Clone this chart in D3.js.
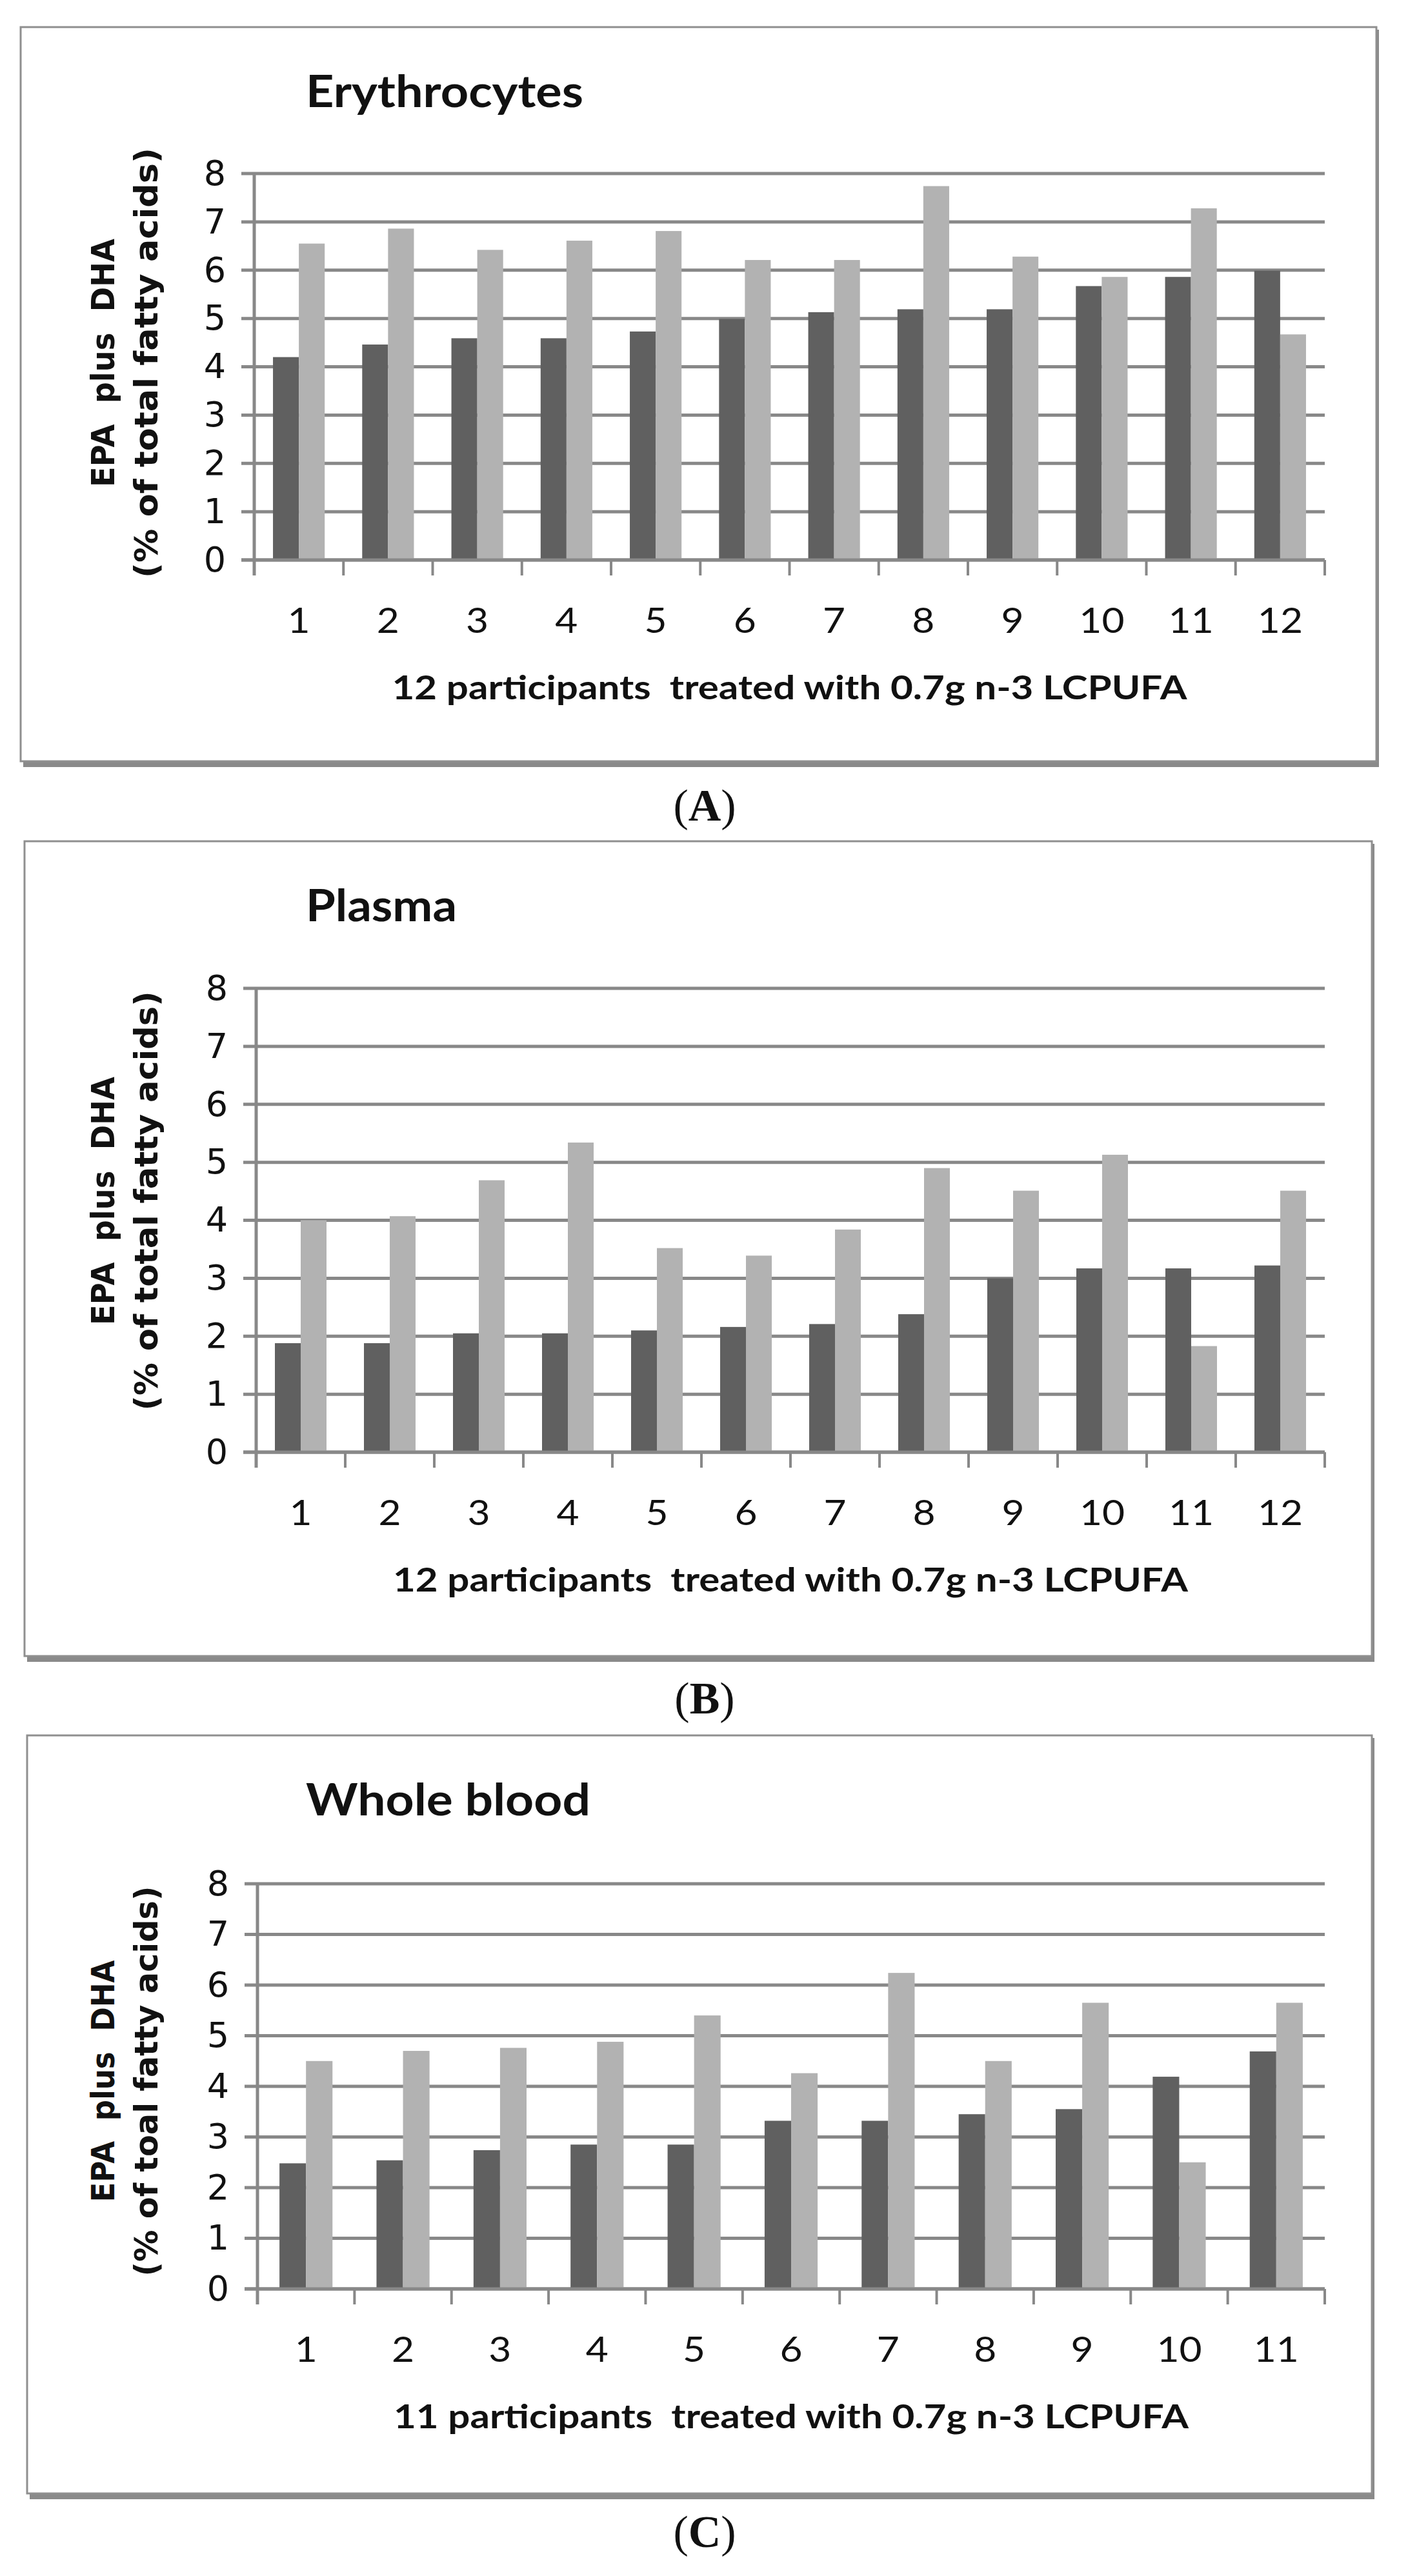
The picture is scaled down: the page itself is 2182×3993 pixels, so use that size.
<!DOCTYPE html>
<html>
<head>
<meta charset="utf-8">
<script src="https://cdn.jsdelivr.net/npm/d3@7"></script>
<style>
  body { margin: 0; background: #fff; }
  text { white-space: pre; }
</style>
</head>
<body>
<div id="chart"></div>
<script>
// ---- data ----
const yTicks = [0, 1, 2, 3, 4, 5, 6, 7, 8];

const erythroParticipants = ["1", "2", "3", "4", "5", "6", "7", "8", "9", "10", "11", "12"];
const erythroBefore = [4.20, 4.46, 4.59, 4.59, 4.73, 4.99, 5.13, 5.19, 5.19, 5.67, 5.86, 5.99];
const erythroAfter  = [6.55, 6.86, 6.42, 6.61, 6.81, 6.21, 6.21, 7.74, 6.28, 5.86, 7.28, 4.67];

const plasmaParticipants = ["1", "2", "3", "4", "5", "6", "7", "8", "9", "10", "11", "12"];
const plasmaBefore = [1.88, 1.88, 2.05, 2.05, 2.10, 2.16, 2.21, 2.38, 3.00, 3.17, 3.17, 3.22];
const plasmaAfter  = [4.00, 4.07, 4.69, 5.34, 3.52, 3.39, 3.84, 4.90, 4.51, 5.13, 1.83, 4.51];

const bloodParticipants = ["1", "2", "3", "4", "5", "6", "7", "8", "9", "10", "11"];
const bloodBefore = [2.48, 2.54, 2.74, 2.85, 2.85, 3.32, 3.32, 3.45, 3.55, 4.19, 4.69];
const bloodAfter  = [4.50, 4.70, 4.76, 4.88, 5.40, 4.26, 6.24, 4.50, 5.65, 2.50, 5.65];

const series = ["before", "after"];
const colors = { before: "#606060", after: "#b2b2b2" };

// ---- layout of the three panels ----
const W = 2182, H = 3993;

const panels = [
  { title: "Erythrocytes", letter: "A", labels: erythroParticipants, before: erythroBefore, after: erythroAfter,
    xTitle: "12 participants  treated with 0.7g n-3 LCPUFA", yLine2: "(% of total fatty acids)",
    frame: { x: 32, y: 42, w: 2101, h: 1138 }, plot: { left: 394, right: 2053, top: 269, bottom: 868 },
    gap: 0.725, titleLen: 430, yLen1: 385, yLen2: 667, yShift: -6, letterY: 1248 },
  { title: "Plasma", letter: "B", labels: plasmaParticipants, before: plasmaBefore, after: plasmaAfter,
    xTitle: "12 participants  treated with 0.7g n-3 LCPUFA", yLine2: "(% of total fatty acids)",
    frame: { x: 38, y: 1304, w: 2088, h: 1263 }, plot: { left: 397, right: 2053, top: 1532, bottom: 2251 },
    gap: 0.725, titleLen: 234, yLen1: 385, yLen2: 650, yShift: -30, letterY: 2632 },
  { title: "Whole blood", letter: "C", labels: bloodParticipants, before: bloodBefore, after: bloodAfter,
    xTitle: "11 participants  treated with 0.7g n-3 LCPUFA", yLine2: "(% of toal fatty acids)",
    frame: { x: 42, y: 2690, w: 2084, h: 1175 }, plot: { left: 399, right: 2053, top: 2920, bottom: 3548 },
    gap: 0.83, titleLen: 441, yLen1: 375, yLen2: 605, yShift: -8, letterY: 3924 }
];

const svg = d3.select("#chart")
  .append("svg")
  .attr("width", W)
  .attr("height", H)
  .style("display", "block");

svg.append("rect").attr("width", W).attr("height", H).attr("fill", "#fff");

const gridColor = "#888";

panels.forEach(drawPanel);

function drawPanel(p) {
  const g = svg.append("g");
  const f = p.frame;

  // panel frame with a little drop shadow at the bottom/right
  g.append("rect")
    .attr("x", f.x + 4).attr("y", f.y + 4)
    .attr("width", f.w).attr("height", f.h + 5)
    .attr("fill", "#8a8a8a");
  g.append("rect")
    .attr("x", f.x).attr("y", f.y)
    .attr("width", f.w).attr("height", f.h)
    .attr("fill", "#fff")
    .attr("stroke", "#8f8f8f")
    .attr("stroke-width", 3);

  const x0 = d3.scaleBand()
    .domain(p.labels)
    .range([p.plot.left, p.plot.right]);

  const x1 = d3.scaleBand()
    .domain(series)
    .range([0, x0.bandwidth()])
    .paddingOuter(p.gap);

  const y = d3.scaleLinear()
    .domain([0, 8])
    .range([p.plot.bottom, p.plot.top]);

  // horizontal gridlines (stick out left of the axis like outer ticks)
  g.append("g")
    .selectAll("line")
    .data(yTicks)
    .join("line")
    .attr("x1", p.plot.left - 20)
    .attr("x2", p.plot.right)
    .attr("y1", d => y(d))
    .attr("y2", d => y(d))
    .attr("stroke", gridColor)
    .attr("stroke-width", 5);

  // bars
  const rows = p.labels.map((lab, i) => ({ lab, before: p.before[i], after: p.after[i] }));
  g.append("g")
    .selectAll("g")
    .data(rows)
    .join("g")
    .attr("transform", d => `translate(${x0(d.lab)},0)`)
    .selectAll("rect")
    .data(d => series.map(k => ({ key: k, value: d[k] })))
    .join("rect")
    .attr("x", d => x1(d.key))
    .attr("width", x1.bandwidth())
    .attr("y", d => y(d.value))
    .attr("height", d => y(0) - y(d.value))
    .attr("fill", d => colors[d.key]);

  // x axis line + category boundary ticks
  const bounds = x0.domain().map(d => x0(d)).concat([x0.range()[1]]);
  g.append("line")
    .attr("x1", p.plot.left - 20).attr("x2", p.plot.right)
    .attr("y1", y(0)).attr("y2", y(0))
    .attr("stroke", gridColor).attr("stroke-width", 5);
  g.append("g")
    .selectAll("line")
    .data(bounds)
    .join("line")
    .attr("x1", d => d).attr("x2", d => d)
    .attr("y1", y(0)).attr("y2", y(0) + 24)
    .attr("stroke", gridColor).attr("stroke-width", 4);

  // y axis line
  g.append("line")
    .attr("x1", p.plot.left).attr("x2", p.plot.left)
    .attr("y1", p.plot.top).attr("y2", y(0) + 24)
    .attr("stroke", gridColor).attr("stroke-width", 5);

  // y tick labels
  const yAxis = g.append("g")
    .attr("transform", `translate(${p.plot.left},0)`)
    .call(d3.axisLeft(y).tickValues(yTicks).tickFormat(d3.format("d")).tickSize(0).tickPadding(44));
  yAxis.select(".domain").remove();
  yAxis.selectAll("text")
    .attr("font-family", "DejaVu Sans, Verdana, sans-serif")
    .attr("font-size", 54)
    .attr("fill", "#111");

  // x tick labels
  const xAxis = g.append("g")
    .attr("transform", `translate(0,${y(0)})`)
    .call(d3.axisBottom(x0).tickSize(0).tickPadding(0));
  xAxis.select(".domain").remove();
  xAxis.selectAll("text")
    .attr("dy", null)
    .attr("x", 0)
    .attr("y", 92)
    .attr("dominant-baseline", "central")
    .attr("transform", "scale(1.12,1)")
    .attr("font-family", "Lato, sans-serif")
    .attr("font-size", 54)
    .attr("fill", "#111");

  // panel title
  g.append("text")
    .attr("x", 474)
    .attr("y", f.y + 124)
    .attr("font-family", "Lato, sans-serif")
    .attr("font-weight", "bold")
    .attr("font-size", 68)
    .attr("textLength", p.titleLen)
    .attr("lengthAdjust", "spacingAndGlyphs")
    .attr("fill", "#111")
    .text(p.title);

  // x axis title
  g.append("text")
    .attr("x", (p.plot.left + p.plot.right) / 2)
    .attr("y", y(0) + 196)
    .attr("text-anchor", "middle")
    .attr("dominant-baseline", "central")
    .attr("font-family", "Lato, sans-serif")
    .attr("font-weight", "bold")
    .attr("font-size", 52)
    .attr("textLength", 1232)
    .attr("lengthAdjust", "spacingAndGlyphs")
    .attr("fill", "#111")
    .text(p.xTitle);

  // y axis title, two lines
  const cy = (p.plot.top + p.plot.bottom) / 2 + p.yShift;
  [["EPA  plus  DHA", 160, p.yLen1], [p.yLine2, 227, p.yLen2]].forEach(([txt, cx, len]) => {
    g.append("text")
      .attr("transform", `translate(${cx},${cy}) rotate(-90)`)
      .attr("text-anchor", "middle")
      .attr("dominant-baseline", "central")
      .attr("font-family", "DejaVu Sans, Verdana, sans-serif")
      .attr("font-weight", "bold")
      .attr("font-size", 50)
      .attr("textLength", len)
      .attr("lengthAdjust", "spacingAndGlyphs")
      .attr("fill", "#111")
      .text(txt);
  });

  // panel letter below the frame
  const lt = svg.append("text")
    .attr("x", 1092)
    .attr("y", p.letterY)
    .attr("text-anchor", "middle")
    .attr("dominant-baseline", "central")
    .attr("font-family", "Liberation Serif, Times New Roman, serif")
    .attr("font-size", 70)
    .attr("fill", "#111");
  lt.append("tspan").text("(");
  lt.append("tspan").attr("font-weight", "bold").text(p.letter);
  lt.append("tspan").text(")");
}
</script>
</body>
</html>
